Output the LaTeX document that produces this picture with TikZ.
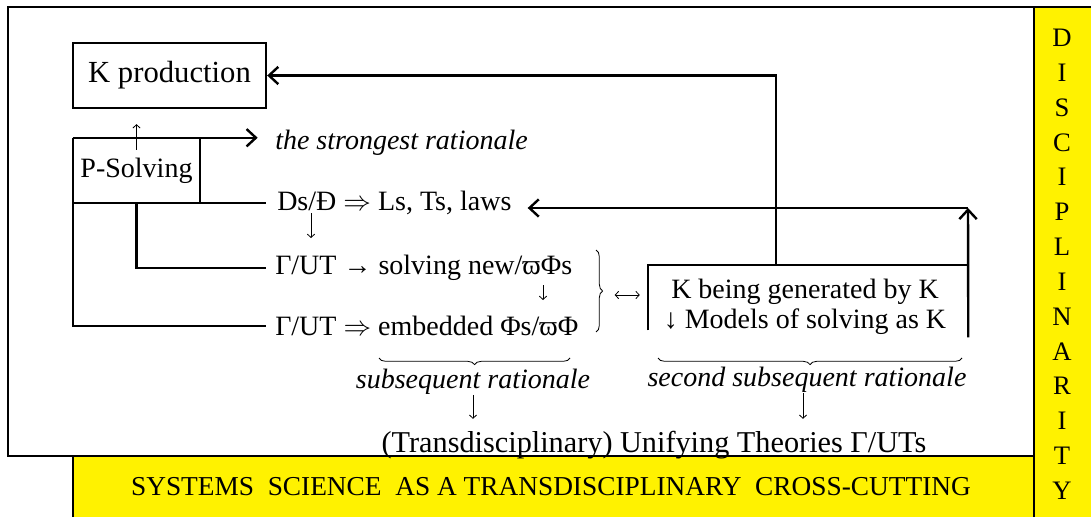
\documentclass[tikz,border=0pt]{standalone}
\usepackage{fontspec}
\setmainfont{Liberation Serif}
\usetikzlibrary{arrows.meta,calc,decorations.pathreplacing}

\begin{document}
\begin{tikzpicture}[x=0.75pt, y=-0.75pt]
	\tikzset{
		line/.style={line width=1.8pt},
		bigarrow/.style={line width=1.8pt, -{Straight Barb[length=7pt, width=13pt]}},
		tinyarrow/.style={line width=0.6pt, -{Straight Barb[length=2.5pt, width=5.5pt]}},
		tinyboth/.style={line width=0.6pt, {Straight Barb[length=2.5pt, width=5.5pt]}-{Straight Barb[length=2.5pt, width=5.5pt]}},
		txt/.style={inner sep=0pt, font=\fontsize{21}{26}\selectfont},
		itxt/.style={inner sep=0pt, font=\fontsize{21}{25}\selectfont\itshape},
		curly/.style={decorate, decoration={brace, amplitude=5pt}, line width=0.6pt},
	};
	\useasboundingbox (0,0) rectangle (1091,517);

	% frame and yellow bands
	\fill[yellow] (73,456) rectangle (1034,517);
	\fill[yellow] (1034,7) rectangle (1091,517);
	\draw[line] (1091,7) -- (8,7) -- (8,456) -- (1034,456);
	\draw[line] (73,517) -- (73,456);
	\draw[line] (1034,7) -- (1034,517);

	\node[txt, font=\fontsize{23}{27}\selectfont, draw, line width=1.8pt, minimum width=144.75pt, minimum height=48.75pt] (kp) at (169.5,75.5) {K production};
	\node[txt, minimum width=95.25pt, minimum height=48.75pt] (ps) at (136.5,170.5) {P-Solving};

	\node[itxt, anchor=west] (strong) at (275,143) {the strongest rationale};
	\node[txt, anchor=west] (ds) at (277,203) {Ds/Đ $\Rightarrow$ Ls, Ts, laws};
	\node[txt, anchor=west] (gut1) at (275,268) {Γ/UT → solving new/ϖΦs};
	\node[txt, anchor=west] (gut2) at (275,326) {Γ/UT $\Rightarrow$ embedded Φs/ϖΦ};

	\node[minimum width=240pt, minimum height=54pt, inner sep=0pt] (kg) at (808,301) {};
	\node[txt, align=center, font=\fontsize{21}{22.5}\selectfont] (kgt) at (805,307) {K being generated by K\\↓ Models of solving as K};

	\node[itxt] (sub) at (473,382) {subsequent rationale};
	\node[itxt] (sub2) at (807,380) {second subsequent rationale};
	\node[txt, font=\fontsize{22.7}{27}\selectfont] (ut) at (654,445) {(Transdisciplinary) Unifying Theories Γ/UTs};

	\node[inner sep=0pt, font=\fontsize{20.5}{24}\selectfont] (sys) at (551,487) {SYSTEMS\ \ SCIENCE\ \ AS A TRANSDISCIPLINARY\ \ CROSS-CUTTING};
	\foreach \c [count=\i] in {D,I,S,C,I,P,L,I,N,A,R,I,T,Y}
		\node[inner sep=0pt, font=\fontsize{20}{24}\selectfont] (d\i) at (1062,{38+34.8*(\i-1)}) {\c};

	% connectors
	\coordinate (rt) at (968,208);
	\draw[bigarrow] ($(kg.north west)+(128,0)$) |- (kp.east);
	\draw[line] ($(kg.south west)+(0,-7)$) |- (kg.north east);
	\draw[bigarrow] (kg.south east) -- (rt);
	\draw[bigarrow, shorten >=12pt] (rt) -- (rt -| ds.east);

	\draw[bigarrow, shorten >=13pt] (ps.north west) -- (ps.north west -| strong.west);
	\draw[line] (ps.north east) -- (ps.south east);
	\draw[line, shorten >=8pt] (ps.north west) |- (ds.west);
	\draw[line, shorten >=7pt] (ps.south west) |- (gut2.west);
	\draw[line, shorten >=7pt] (ps.south) |- (gut1.west);

	\draw[tinyarrow] ($(ps.north)+(0,12)$) -- ($(ps.north |- kp.south)+(0,15)$);
	\draw[tinyarrow] ($(ds.west)+(34,10)$) -- ($(ds.west)+(34,35)$);
	\draw[tinyarrow] ($(gut1.west)+(268,17)$) -- ($(gut1.west)+(268,32)$);
	\draw[tinyboth] ($(kg.west)+(-33,-6)$) -- ($(kg.west)+(-8,-6)$);
	\draw[tinyarrow, shorten >=9pt] (sub.south) -- (sub.south |- ut.north);
	\draw[tinyarrow, shorten >=9pt] ($(sub2.south)+(-4,0)$) -- ($(sub2.south |- ut.north)+(-4,0)$);

	% braces
	\draw[curly] (596,250) -- (596,332);
	\draw[curly] (570,358) -- (379,358);
	\draw[curly] (962,358) -- (658,358);
\end{tikzpicture}
\end{document}
